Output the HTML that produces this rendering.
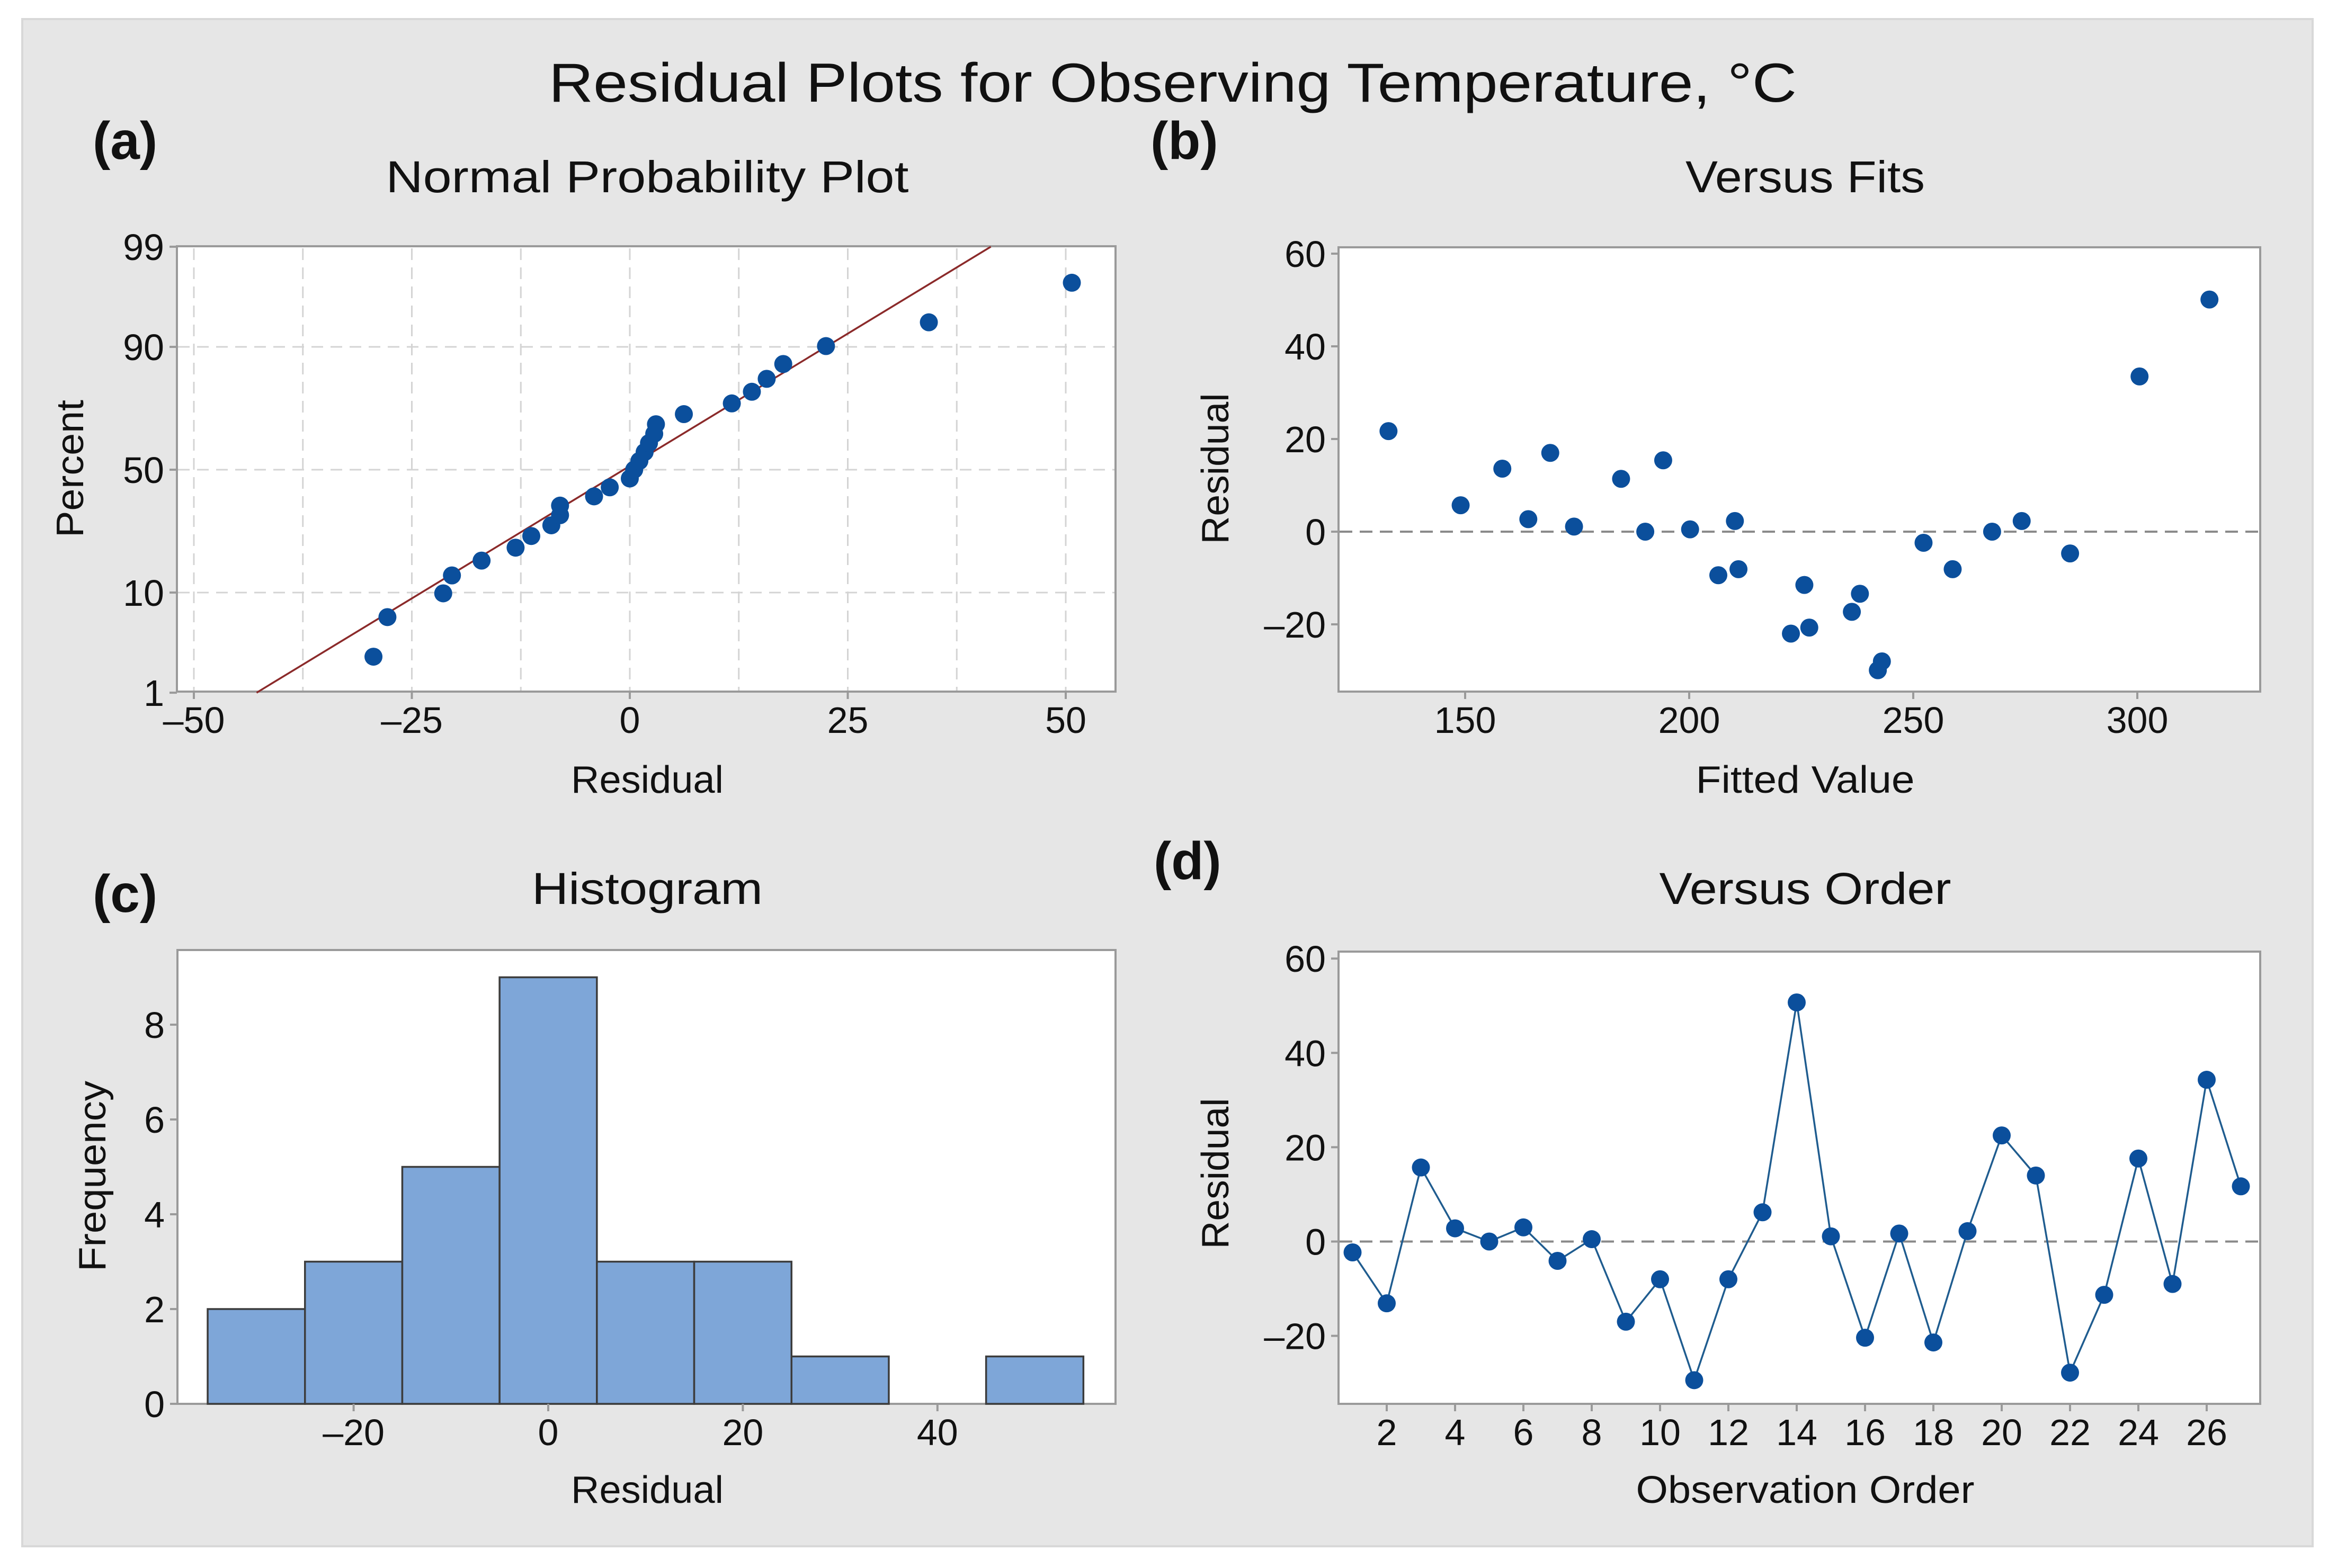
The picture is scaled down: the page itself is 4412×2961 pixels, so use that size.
<!DOCTYPE html>
<html><head><meta charset="utf-8"><title>Residual Plots</title>
<style>
html,body{margin:0;padding:0;background:#fff;}
svg{display:block;font-family:"Liberation Sans",sans-serif;}
</style></head>
<body>
<svg id="chart" width="4412" height="2961" viewBox="0 0 4412 2961" xmlns="http://www.w3.org/2000/svg">
<rect x="42" y="36" width="4324" height="2884" fill="#e6e6e6" stroke="#d8d8d8" stroke-width="4"/>
<text x="2214" y="192" font-size="104" text-anchor="middle" textLength="2356" lengthAdjust="spacingAndGlyphs" fill="#111">Residual Plots for Observing Temperature, °C</text>
<text x="175" y="300" font-size="100" font-weight="bold" fill="#111">(a)</text>
<text x="2172" y="300" font-size="100" font-weight="bold" fill="#111">(b)</text>
<text x="175" y="1722" font-size="100" font-weight="bold" fill="#111">(c)</text>
<text x="2178" y="1660" font-size="100" font-weight="bold" fill="#111">(d)</text>
<g id="g"></g>
</svg>
<script>
// ---------- data ----------
// Versus Order residuals (observation 1..27)
const orderResiduals = [-2.3,-13.1,15.7,2.8,0,3.0,-4.1,0.5,-17.0,-8.0,-29.4,-8.0,6.2,50.7,1.1,-20.4,1.7,-21.4,2.2,22.5,14.0,-27.8,-11.3,17.6,-9.0,34.3,11.7];
// Versus Fits
const fittedValues = [132.9,149.0,158.3,164.1,169.0,174.3,184.8,190.2,194.2,200.2,206.5,210.2,211.0,222.7,225.7,226.8,236.3,238.1,242.1,243.0,252.3,258.8,267.6,274.2,285.0,300.5,316.1];
const fitResiduals = [21.7,5.7,13.6,2.7,17.0,1.1,11.4,0,15.4,0.5,-9.4,2.3,-8.1,-22.0,-11.5,-20.7,-17.3,-13.4,-29.9,-28.0,-2.4,-8.1,0,2.3,-4.7,33.5,50.1];
// Histogram
const histBinCenters = [-30,-20,-10,0,10,20,30,40,50];
const histCounts = [2,3,5,9,3,3,1,0,1];
// Normal probability fit line (mean, sd)
const fitMean = -0.7;
const fitSd = 18.1;
// Tick labels
const npTicksX = [-50,-25,0,25,50];
const npTicksY = [1,10,50,90,99];
const fitsTicksX = [150,200,250,300];
const residTicksY = [-20,0,20,40,60];
const histTicksX = [-20,0,20,40];
const histTicksY = [0,2,4,6,8];
const orderTicksX = [2,4,6,8,10,12,14,16,18,20,22,24,26];

// ---------- helpers ----------
const NS = "http://www.w3.org/2000/svg";
const G = document.getElementById('g');
function mk(tag, attrs, parent){ const e=document.createElementNS(NS,tag); for(const k in attrs) e.setAttribute(k,attrs[k]); (parent||G).appendChild(e); return e; }
function txt(s, attrs, parent){ const e=mk('text',attrs,parent); e.textContent=s; return e; }
function probit(p){ // inverse normal CDF (Acklam)
  const a=[-39.6968302866538,220.946098424521,-275.928510446969,138.357751867269,-30.6647980661472,2.50662827745924];
  const b=[-54.4760987982241,161.585836858041,-155.698979859887,66.8013118877197,-13.2806815528857];
  const c=[-0.00778489400243029,-0.322396458041136,-2.40075827716184,-2.54973253934373,4.37466414146497,2.93816398269878];
  const d=[0.00778469570904146,0.32246712907004,2.445134137143,3.75440866190742];
  const pl=0.02425; let q,r;
  if(p<pl){q=Math.sqrt(-2*Math.log(p));return (((((c[0]*q+c[1])*q+c[2])*q+c[3])*q+c[4])*q+c[5])/((((d[0]*q+d[1])*q+d[2])*q+d[3])*q+1);}
  if(p>1-pl){q=Math.sqrt(-2*Math.log(1-p));return -(((((c[0]*q+c[1])*q+c[2])*q+c[3])*q+c[4])*q+c[5])/((((d[0]*q+d[1])*q+d[2])*q+d[3])*q+1);}
  q=p-0.5;r=q*q;return (((((a[0]*r+a[1])*r+a[2])*r+a[3])*r+a[4])*r+a[5])*q/(((((b[0]*r+b[1])*r+b[2])*r+b[3])*r+b[4])*r+1);
}
const DOT='#0b4f9c', AX='#9a9a9a', TXT='#111';
function box(name,x0,y0,x1,y1){
  const r=mk('rect',{x:x0,y:y0,width:x1-x0,height:y1-y0,fill:'#fff',stroke:AX,'stroke-width':4});
  
  
}
function xTick(name,x,y1,label){
  const l=mk('line',{x1:x,x2:x,y1:y1,y2:y1+14,stroke:AX,'stroke-width':4});
  
  
  const t=txt(label,{x:x,y:y1+78,'font-size':70,'text-anchor':'middle',fill:TXT});
  
  
}
function yTick(name,x0,y,label){
  const l=mk('line',{x1:x0-14,x2:x0,y1:y,y2:y,stroke:AX,'stroke-width':4});
  
  
  const t=txt(label,{x:x0-24,y:y+25,'font-size':70,'text-anchor':'end',fill:TXT});
  
  
}
function title(name,s,cx,y,len){
  const t=txt(s,{x:cx,y:y,'font-size':84,'text-anchor':'middle',textLength:len,lengthAdjust:'spacingAndGlyphs',fill:TXT});
  
  
}
function axTitle(name,s,cx,y,len){
  const t=txt(s,{x:cx,y:y,'font-size':72,'text-anchor':'middle',textLength:len,lengthAdjust:'spacingAndGlyphs',fill:TXT});
  
  
}
function yTitle(name,s,cx,cy,len){
  const t=txt(s,{x:cx,y:cy,'font-size':72,'text-anchor':'middle',transform:'rotate(-90 '+cx+' '+cy+')',textLength:len,lengthAdjust:'spacingAndGlyphs',fill:TXT,'dominant-baseline':'middle'});
  
  
}
function dot(name,x,y){
  const c=mk('circle',{cx:x,cy:y,r:17,fill:DOT});
  
  
}

// ---------- (a) Normal probability plot ----------
(function(){
  const L=334,R=2106,T=465,B=1306;
  const xA=v=>1189+v*16.46;
  const yA=p=>887-probit(p/100)*181;
  box('normal-plot-area',L,T,R,B);
  [-50,-37.5,-25,-12.5,0,12.5,25,37.5,50].forEach(v=>{
    const l=mk('line',{x1:xA(v),x2:xA(v),y1:T+4,y2:B-2,stroke:'#d4d4d4','stroke-width':3,'stroke-dasharray':'22 14'});
    
    
  });
  [10,50,90].forEach(p=>{
    const l=mk('line',{x1:L+2,x2:R-2,y1:yA(p),y2:yA(p),stroke:'#d4d4d4','stroke-width':3,'stroke-dasharray':'22 14'});
    
    
  });
  // fit line clipped to plot
  const zLo=probit(0.01), zHi=probit(0.99);
  let xs=fitMean+zLo*fitSd, xe=fitMean+zHi*fitSd;
  const fl=mk('line',{x1:xA(xs),y1:yA(1),x2:xA(xe),y2:yA(99),stroke:'#8b2a2a','stroke-width':3.5});
  
  
  const sorted=orderResiduals.slice().sort((a,b)=>a-b);
  const n=sorted.length;
  sorted.forEach((v,i)=>{ const p=(i+1-0.3)/(n+0.4)*100; dot('normal-point',xA(v),yA(p)); });
  npTicksX.forEach(v=>xTick('normal-x',xA(v),B,String(v).replace('-','\u2013')));
  npTicksY.forEach(p=>yTick('normal-y',L,yA(p),String(p)));
  title('normal-plot-title','Normal Probability Plot',1222,363,987);
  axTitle('normal-x-title','Residual',1222,1497,288);
  yTitle('normal-y-title','Percent',138,885,260);
})();

// ---------- (b) Versus fits ----------
(function(){
  const L=2527,R=4267,T=467,B=1306;
  const xB=v=>2766+(v-150)*8.46;
  const yB=v=>1004-v*8.75;
  box('fits-plot-area',L,T,R,B);
  const z=mk('line',{x1:L+2,x2:R-2,y1:yB(0),y2:yB(0),stroke:'#8a8a8a','stroke-width':4,'stroke-dasharray':'24 14'});
  
  
  fittedValues.forEach((f,i)=>dot('fits-point',xB(f),yB(fitResiduals[i])));
  fitsTicksX.forEach(v=>xTick('fits-x',xB(v),B,String(v)));
  residTicksY.forEach(v=>yTick('fits-y',L,yB(v),String(v).replace('-','\u2013')));
  title('fits-plot-title','Versus Fits',3408,363,452);
  axTitle('fits-x-title','Fitted Value',3408,1497,413);
  yTitle('fits-y-title','Residual',2300,885,285);
})();

// ---------- (c) Histogram ----------
(function(){
  const L=335,R=2106,T=1794,B=2651;
  const xC=v=>1035+v*18.37;
  const yC=v=>2651-v*89.5;
  box('histogram-plot-area',L,T,R,B);
  histBinCenters.forEach((c,i)=>{
    const h=histCounts[i];
    const r=mk('rect',{x:xC(c-5),y:yC(h),width:xC(c+5)-xC(c-5),height:yC(0)-yC(h),fill:'#7ea6d8',stroke:'#3c3c3c','stroke-width':3.5});
    
    
  });
  histTicksX.forEach(v=>xTick('histogram-x',xC(v),B,String(v).replace('-','\u2013')));
  histTicksY.forEach(v=>yTick('histogram-y',L,yC(v),String(v)));
  title('histogram-title','Histogram',1222,1707,436);
  axTitle('histogram-x-title','Residual',1222,2838,288);
  yTitle('histogram-y-title','Frequency',180,2221,360);
})();

// ---------- (d) Versus order ----------
(function(){
  const L=2527,R=4267,T=1797,B=2651;
  const xD=v=>2553.5+(v-1)*64.5;
  const yD=v=>2344.5-v*8.906;
  box('order-plot-area',L,T,R,B);
  const z=mk('line',{x1:L+2,x2:R-2,y1:yD(0),y2:yD(0),stroke:'#8a8a8a','stroke-width':4,'stroke-dasharray':'24 14'});
  
  
  const pts=orderResiduals.map((v,i)=>xD(i+1)+','+yD(v)).join(' ');
  const pl=mk('polyline',{points:pts,fill:'none',stroke:'#1f5c8f','stroke-width':3.5});
  
  
  orderResiduals.forEach((v,i)=>dot('order-point',xD(i+1),yD(v)));
  orderTicksX.forEach(v=>xTick('order-x',xD(v),B,String(v)));
  residTicksY.forEach(v=>yTick('order-y',L,yD(v),String(v).replace('-','\u2013')));
  title('order-plot-title','Versus Order',3408,1707,551);
  axTitle('order-x-title','Observation Order',3408,2838,639);
  yTitle('order-y-title','Residual',2300,2216,285);
})();
</script>
</body></html>
